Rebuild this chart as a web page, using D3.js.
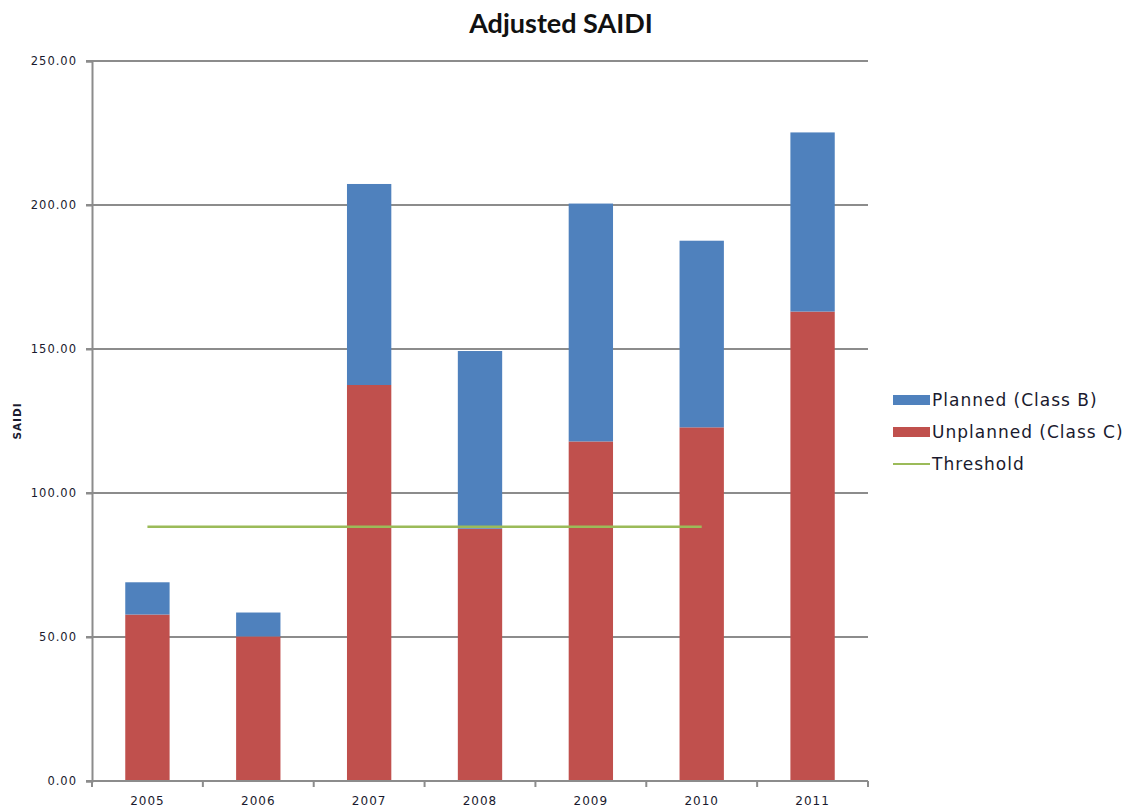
<!DOCTYPE html>
<html>
<head>
<meta charset="utf-8">
<script src="https://cdn.jsdelivr.net/npm/d3@7"></script>
<style>
  html, body { margin: 0; padding: 0; background: #fff; }
  svg { display: block; }
  text { font-family: "DejaVu Sans", Verdana, sans-serif; }
</style>
</head>
<body>
<svg id="chart" width="1127" height="810"></svg>
<script>
// Adjusted SAIDI by year, split into planned and unplanned minutes
const years = ["2005", "2006", "2007", "2008", "2009", "2010", "2011"];
const unplanned = [57.8, 50.2, 137.5, 87.6, 117.9, 122.8, 163.0];
const planned = [11.2, 8.3, 69.8, 61.7, 82.6, 64.8, 62.2];
const thresholdYears = ["2005", "2006", "2007", "2008", "2009", "2010"];
const thresholdValues = [88.3, 88.3, 88.3, 88.3, 88.3, 88.3];
const yTicks = [0, 50, 100, 150, 200, 250];

const colors = { planned: "#4F81BD", unplanned: "#C0504D", threshold: "#9BBB59" };
const textColor = "#1a1a2e";

const svg = d3.select("#chart");
const plot = { left: 92, right: 868, top: 61, bottom: 781 };

const x = d3.scaleBand()
  .domain(years)
  .range([plot.left, plot.right])
  .paddingInner(0.6)
  .paddingOuter(0.3);

const y = d3.scaleLinear()
  .domain([0, 250])
  .range([plot.bottom, plot.top]);

// Horizontal gridlines with short outward ticks on the left
svg.append("g")
  .selectAll("line")
  .data(yTicks.filter(d => d > 0))
  .join("line")
  .attr("x1", plot.left - 6)
  .attr("x2", plot.right)
  .attr("y1", d => y(d))
  .attr("y2", d => y(d))
  .attr("stroke", "#8c8c8c")
  .attr("stroke-width", 2);

// Stacked bars
const rows = years.map((yr, i) => ({ year: yr, unplanned: unplanned[i], planned: planned[i] }));
const stack = d3.stack().keys(["unplanned", "planned"])(rows);

svg.append("g")
  .selectAll("g")
  .data(stack)
  .join("g")
  .attr("fill", d => colors[d.key])
  .selectAll("rect")
  .data(d => d)
  .join("rect")
  .attr("x", d => x(d.data.year))
  .attr("width", x.bandwidth())
  .attr("y", d => y(d[1]))
  .attr("height", d => y(d[0]) - y(d[1]));

// Threshold line
const line = d3.line()
  .x((d, i) => x(thresholdYears[i]) + x.bandwidth() / 2)
  .y(d => y(d));

svg.append("path")
  .datum(thresholdValues)
  .attr("d", line)
  .attr("fill", "none")
  .attr("stroke", colors.threshold)
  .attr("stroke-width", 2.5);

// Y axis
const yAxis = d3.axisLeft(y)
  .tickValues(yTicks)
  .tickFormat(d3.format(".2f"))
  .tickSize(6)
  .tickPadding(9);

const yg = svg.append("g")
  .attr("transform", `translate(${plot.left},0)`)
  .call(yAxis);
yg.select(".domain").attr("stroke", "#8c8c8c").attr("stroke-width", 2);
yg.selectAll(".tick line").attr("stroke", "#8c8c8c").attr("stroke-width", 2);
yg.selectAll(".tick text")
  .attr("fill", textColor)
  .style("font-size", "11.5px")
  .style("letter-spacing", "1px")
  .style("font-family", "'DejaVu Sans', sans-serif");

// X axis: ticks at category boundaries, labels at centres
const xg = svg.append("g")
  .attr("transform", `translate(0,${plot.bottom})`);
xg.append("line")
  .attr("x1", plot.left - 6)
  .attr("x2", plot.right)
  .attr("stroke", "#8c8c8c")
  .attr("stroke-width", 2);
const boundaries = years.map(yr => x(yr) - x.step() * x.paddingInner() / 2).concat([plot.right]);
xg.selectAll("line.bound")
  .data(boundaries)
  .join("line")
  .attr("class", "bound")
  .attr("x1", d => d)
  .attr("x2", d => d)
  .attr("y1", 0)
  .attr("y2", 6)
  .attr("stroke", "#8c8c8c")
  .attr("stroke-width", 2);
xg.selectAll("text")
  .data(years)
  .join("text")
  .attr("x", d => x(d) + x.bandwidth() / 2)
  .attr("y", 24)
  .attr("text-anchor", "middle")
  .attr("fill", textColor)
  .style("font-size", "12px")
  .style("letter-spacing", "1px")
  .text(d => d);

// Axis title
svg.append("text")
  .attr("transform", `translate(21,421) rotate(-90)`)
  .attr("text-anchor", "middle")
  .attr("fill", textColor)
  .style("font-size", "10.5px")
  .style("font-weight", "bold")
  .style("letter-spacing", "1px")
  .text("SAIDI");

// Chart title
svg.append("text")
  .attr("x", 561)
  .attr("y", 33)
  .attr("text-anchor", "middle")
  .attr("fill", "#111")
  .style("font-family", "Lato, 'Open Sans', sans-serif")
  .style("font-size", "27px")
  .style("font-weight", "bold")
  .text("Adjusted SAIDI");

// Legend
const legendItems = [
  { label: "Planned (Class B)", color: colors.planned, type: "bar" },
  { label: "Unplanned (Class C)", color: colors.unplanned, type: "bar" },
  { label: "Threshold", color: colors.threshold, type: "line" }
];
const legend = svg.append("g").attr("transform", "translate(893,400)");
const li = legend.selectAll("g")
  .data(legendItems)
  .join("g")
  .attr("transform", (d, i) => `translate(0,${i * 32})`);
li.append("rect")
  .attr("x", 0)
  .attr("width", 37)
  .attr("y", d => d.type === "bar" ? -5 : -1)
  .attr("height", d => d.type === "bar" ? 10 : 2)
  .attr("fill", d => d.color);
li.append("text")
  .attr("x", 39)
  .attr("y", 6)
  .attr("fill", textColor)
  .style("font-size", "17px")
  .style("letter-spacing", "1px")
  .text(d => d.label);
</script>
</body>
</html>
